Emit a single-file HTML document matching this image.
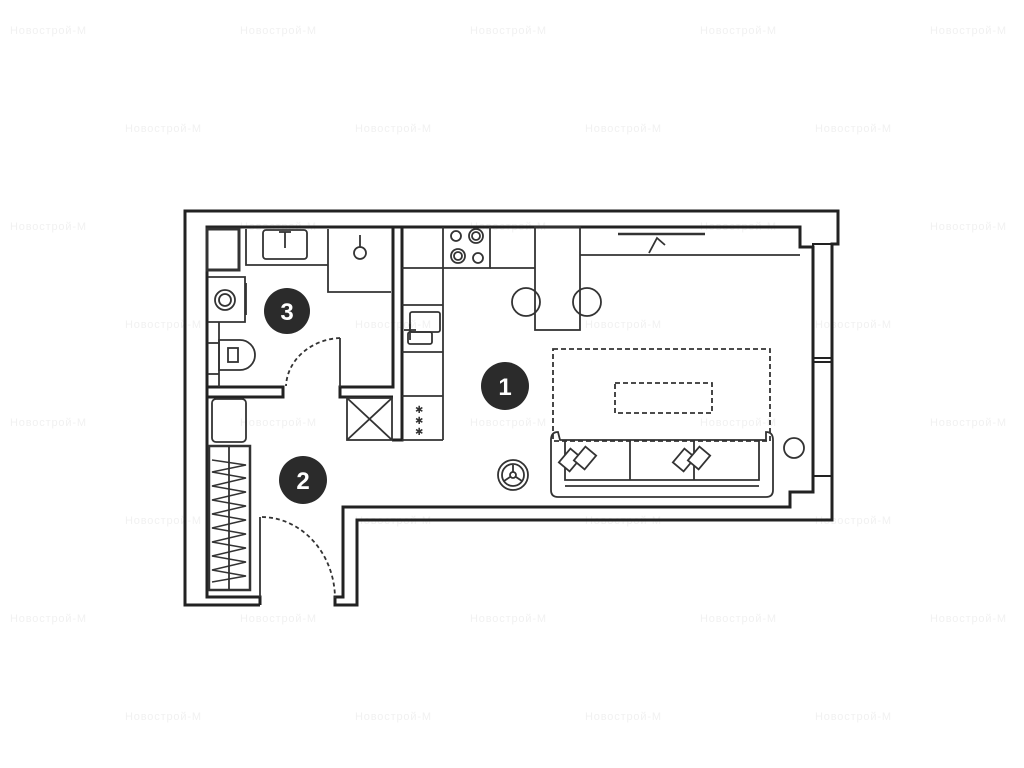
<!DOCTYPE html>
<html><head><meta charset="utf-8"><style>
html,body{margin:0;padding:0;background:#fff;width:1024px;height:768px;overflow:hidden}
</style></head><body>
<svg width="1024" height="768" viewBox="0 0 1024 768" xmlns="http://www.w3.org/2000/svg" font-family="Liberation Sans, sans-serif">
<g fill="#f1f1f1" font-size="11" font-weight="normal">
<text x="10" y="34" textLength="76">Новострой-М</text><text x="240" y="34" textLength="76">Новострой-М</text><text x="470" y="34" textLength="76">Новострой-М</text><text x="700" y="34" textLength="76">Новострой-М</text><text x="930" y="34" textLength="76">Новострой-М</text>
<text x="125" y="132" textLength="76">Новострой-М</text><text x="355" y="132" textLength="76">Новострой-М</text><text x="585" y="132" textLength="76">Новострой-М</text><text x="815" y="132" textLength="76">Новострой-М</text>
<text x="10" y="230" textLength="76">Новострой-М</text><text x="240" y="230" textLength="76">Новострой-М</text><text x="470" y="230" textLength="76">Новострой-М</text><text x="700" y="230" textLength="76">Новострой-М</text><text x="930" y="230" textLength="76">Новострой-М</text>
<text x="125" y="328" textLength="76">Новострой-М</text><text x="355" y="328" textLength="76">Новострой-М</text><text x="585" y="328" textLength="76">Новострой-М</text><text x="815" y="328" textLength="76">Новострой-М</text>
<text x="10" y="426" textLength="76">Новострой-М</text><text x="240" y="426" textLength="76">Новострой-М</text><text x="470" y="426" textLength="76">Новострой-М</text><text x="700" y="426" textLength="76">Новострой-М</text><text x="930" y="426" textLength="76">Новострой-М</text>
<text x="125" y="524" textLength="76">Новострой-М</text><text x="355" y="524" textLength="76">Новострой-М</text><text x="585" y="524" textLength="76">Новострой-М</text><text x="815" y="524" textLength="76">Новострой-М</text>
<text x="10" y="622" textLength="76">Новострой-М</text><text x="240" y="622" textLength="76">Новострой-М</text><text x="470" y="622" textLength="76">Новострой-М</text><text x="700" y="622" textLength="76">Новострой-М</text><text x="930" y="622" textLength="76">Новострой-М</text>
<text x="125" y="720" textLength="76">Новострой-М</text><text x="355" y="720" textLength="76">Новострой-М</text><text x="585" y="720" textLength="76">Новострой-М</text><text x="815" y="720" textLength="76">Новострой-М</text>
</g>
<g fill="none" stroke="#222" stroke-width="3">
<polyline points="260,605 185,605 185,211 838,211 838,244 832,244 832,520 357,520 357,605 335,605 335,597 343,597 343,507 790,507 790,492 813,492 813,247 800,247 800,227 207,227 207,597 260,597 260,605"/>
<rect x="813" y="244" width="19" height="232" stroke-width="2"/>
<line x1="813" y1="358" x2="832" y2="358" stroke-width="2"/><line x1="813" y1="362" x2="832" y2="362" stroke-width="2"/>
<polyline points="393,227 393,387 340,387 340,397 393,397"/>
<polyline points="402,227 402,440 392,440"/>
<polyline points="207,387 283,387 283,397 207,397"/>
</g>
<g fill="none" stroke="#333" stroke-width="1.8">
<rect x="207" y="229" width="32" height="41" stroke-width="3"/>
<polyline points="246,229 246,265 328,265"/>
<rect x="263" y="230" width="44" height="29" rx="3"/>
<line x1="285" y1="232" x2="285" y2="248"/><line x1="279" y1="232" x2="291" y2="232"/>
<polyline points="328,229 328,292 391,292"/>
<circle cx="360" cy="253" r="6"/><line x1="360" y1="235" x2="360" y2="247"/>
<polyline points="208,277 245,277 245,322 208,322"/>
<line x1="246" y1="283" x2="246" y2="315"/>
<circle cx="225" cy="300" r="10"/><circle cx="225" cy="300" r="6"/>
<line x1="219" y1="322" x2="219" y2="387"/><line x1="208" y1="343" x2="219" y2="343"/><line x1="208" y1="374" x2="219" y2="374"/>
<path d="M219,340 L240,340 A15,15 0 0 1 240,370 L219,370 Z"/>
<rect x="228" y="348" width="10" height="14"/>
<line x1="340" y1="338" x2="340" y2="387"/>
<path d="M340,338 A57,50 0 0 0 286,386" stroke-dasharray="4,3"/>
<rect x="212" y="399" width="34" height="43" rx="4"/>
<rect x="209" y="446" width="41" height="144" stroke-width="2.5"/>
<line x1="229" y1="447" x2="229" y2="589"/>
<path d="M212,460 L246,465 L212,472 L246,478 L212,486 L246,492 L212,500 L246,506 L212,514 L246,520 L212,528 L246,534 L212,542 L246,548 L212,556 L246,562 L212,570 L246,576 L212,582" stroke-width="1.5"/>
<line x1="260" y1="517" x2="260" y2="597"/>
<path d="M262,517 A74,82 0 0 1 335,598" stroke-dasharray="4,3"/>
<rect x="347" y="398" width="45" height="42"/>
<line x1="347" y1="398" x2="392" y2="440"/><line x1="392" y1="398" x2="347" y2="440"/>
<polyline points="402,268 443,268 443,227"/>
<line x1="402" y1="305" x2="443" y2="305"/><line x1="402" y1="352" x2="443" y2="352"/><line x1="402" y1="396" x2="443" y2="396"/>
<line x1="443" y1="268" x2="443" y2="440"/><line x1="402" y1="440" x2="443" y2="440"/>
<rect x="410" y="312" width="30" height="20" rx="2"/><rect x="408" y="332" width="24" height="12" rx="2"/>
<line x1="404" y1="330" x2="416" y2="330"/><line x1="410" y1="324" x2="410" y2="340"/>
<text x="415" y="413" font-size="10" fill="#333" stroke="none">✱</text><text x="415" y="424" font-size="10" fill="#333" stroke="none">✱</text><text x="415" y="435" font-size="10" fill="#333" stroke="none">✱</text>
<polyline points="443,268 490,268 490,227"/>
<line x1="490" y1="268" x2="535" y2="268"/>
<circle cx="456" cy="236" r="5"/><circle cx="476" cy="236" r="7"/><circle cx="476" cy="236" r="4"/>
<circle cx="458" cy="256" r="7"/><circle cx="458" cy="256" r="4"/><circle cx="478" cy="258" r="5"/>
<rect x="535" y="227" width="45" height="103"/>
<circle cx="526" cy="302" r="14"/><circle cx="587" cy="302" r="14"/>
<polyline points="580,255 800,255"/>
<line x1="618" y1="234" x2="705" y2="234" stroke-width="2.5"/>
<polyline points="649,253 657,238 665,245"/>
<rect x="553" y="349" width="217" height="92" stroke-dasharray="5,3"/>
<rect x="615" y="383" width="97" height="30" stroke-dasharray="5,3"/>
<path d="M560,440 L766,440 L766,432 Q773,432 773,440 L773,490 Q773,497 766,497 L558,497 Q551,497 551,490 L551,440 Q551,432 558,432 Z"/>
<polyline points="565,440 565,480 759,480 759,440"/>
<line x1="565" y1="486" x2="759" y2="486"/>
<line x1="630" y1="441" x2="630" y2="480"/><line x1="694" y1="441" x2="694" y2="480"/>
<rect x="563" y="451" width="14" height="18" fill="#fff" transform="rotate(40 570 460)"/>
<rect x="578" y="449" width="14" height="18" fill="#fff" transform="rotate(40 585 458)"/>
<rect x="677" y="451" width="14" height="18" fill="#fff" transform="rotate(40 684 460)"/>
<rect x="692" y="449" width="14" height="18" fill="#fff" transform="rotate(40 699 458)"/>
<circle cx="513" cy="475" r="15"/><circle cx="513" cy="475" r="11"/>
<circle cx="513" cy="475" r="3"/><line x1="513" y1="472" x2="513" y2="465"/><line x1="510" y1="477" x2="504" y2="481"/><line x1="516" y1="477" x2="522" y2="481"/>
<circle cx="794" cy="448" r="10"/>
</g>
<g fill="#2b2b2b">
<circle cx="287" cy="311" r="23"/><circle cx="505" cy="386" r="24"/><circle cx="303" cy="480" r="24"/>
</g>
<g fill="#fff" font-size="24" font-weight="bold" text-anchor="middle">
<text x="287" y="320">3</text><text x="505" y="395">1</text><text x="303" y="489">2</text>
</g>
</svg>
</body></html>
